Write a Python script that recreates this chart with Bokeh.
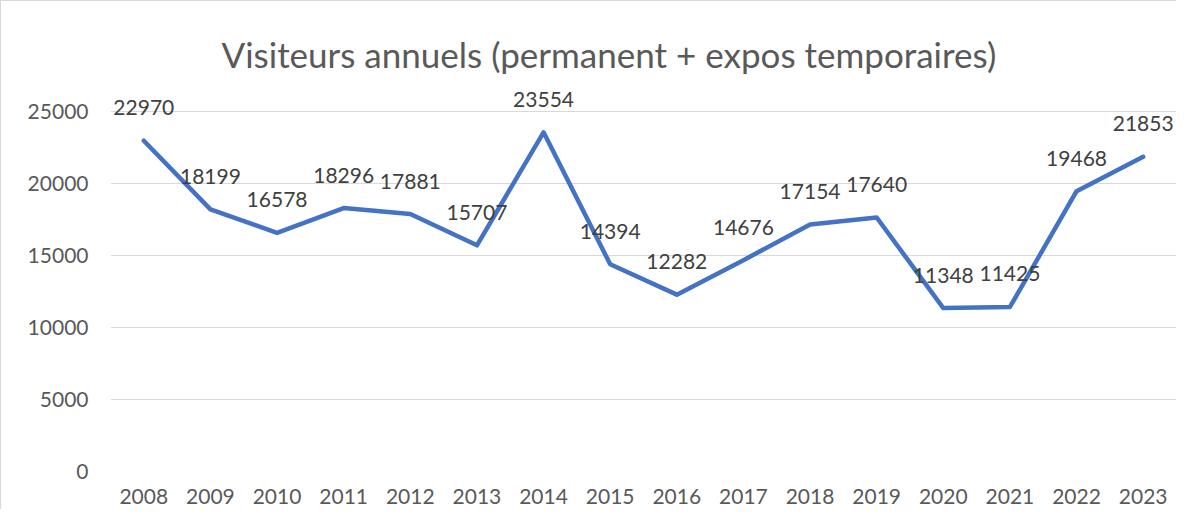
from bokeh.plotting import figure
from bokeh.models import ColumnDataSource, FactorRange, Range1d, FixedTicker, LabelSet, Title
from bokeh.core.properties import value
from bokeh.embed import file_html
from bokeh.resources import INLINE

years = ["2008", "2009", "2010", "2011", "2012", "2013", "2014", "2015",
         "2016", "2017", "2018", "2019", "2020", "2021", "2022", "2023"]
visitors = [22970, 18199, 16578, 18296, 17881, 15707, 23554, 14394,
            12282, 14676, 17154, 17640, 11348, 11425, 19468, 21853]
y_ticks = [0, 5000, 10000, 15000, 20000, 25000]
title_text = "Visiteurs annuels (permanent + expos temporaires)"

FONT = "Lato"

src = ColumnDataSource(dict(x=years, y=visitors, lbl=[str(v) for v in visitors]))

# frame extends a little above the top gridline (25000) so labels are not clipped
frame_top_extra = 27  # px above the 25000 gridline
grid_h = 360          # px from 0 to 25000
y_end = 25000 * (grid_h + frame_top_extra) / grid_h

p = figure(
    x_range=FactorRange(*years),
    y_range=Range1d(0, y_end),
    frame_width=1066, frame_height=grid_h + frame_top_extra,
    output_backend="svg", toolbar_location=None,
    min_border_left=109, min_border_right=0,
    min_border_top=83, min_border_bottom=38,
)
p.styles = {"border-left": "1px solid #d9d9d9", "border-top": "1px solid #d9d9d9"}
p.outline_line_color = None
p.background_fill_color = "white"
p.border_fill_color = "white"

t = Title(text=title_text, align="left", offset=111, text_font=FONT, text_font_size="35px",
          text_font_style="normal", text_color="#595959", standoff=20)
p.add_layout(t, "above")

p.line(x="x", y="y", source=src, line_color="#4472C4", line_width=4.5,
       line_join="round", line_cap="round")

labels = LabelSet(x="x", y="y", text="lbl", source=src, y_offset=33,
                  text_align="center", text_baseline="middle",
                  text_font=value(FONT), text_font_size=value("21px"), text_color="#404040")
p.add_layout(labels)

p.xgrid.grid_line_color = None
p.ygrid.grid_line_color = "#d9d9d9"
p.ygrid.grid_line_width = 1.2
p.yaxis.ticker = FixedTicker(ticks=y_ticks)

for ax in (p.xaxis[0], p.yaxis[0]):
    ax.axis_line_color = None
    ax.major_tick_line_color = None
    ax.minor_tick_line_color = None
    ax.major_label_text_font = FONT
    ax.major_label_text_font_size = "21px"
    ax.major_label_text_color = "#595959"
p.xaxis.major_label_standoff = 11
p.yaxis.major_label_standoff = 16
p.yaxis.formatter.use_scientific = False

open("out.html", "w").write(file_html(p, INLINE))
